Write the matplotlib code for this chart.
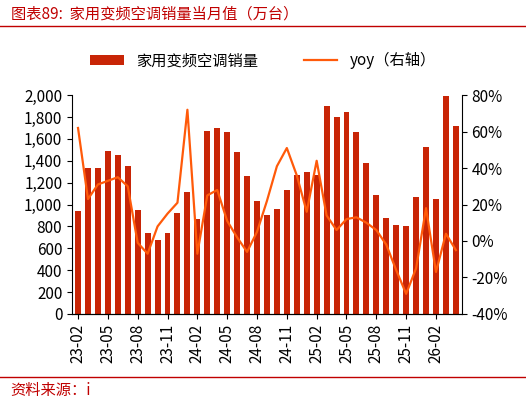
import matplotlib
matplotlib.use("Agg")
import matplotlib.pyplot as plt
import numpy as np

plt.rcParams['font.family'] = ['Noto Sans CJK SC', 'DejaVu Sans']

months = ["23-02", "23-03", "23-04", "23-05", "23-06", "23-07", "23-08", "23-09", "23-10", "23-11", "23-12",
          "24-01", "24-02", "24-03", "24-04", "24-05", "24-06", "24-07", "24-08", "24-09", "24-10", "24-11", "24-12",
          "25-01", "25-02", "25-03", "25-04", "25-05", "25-06", "25-07", "25-08", "25-09", "25-10", "25-11", "25-12",
          "26-01", "26-02", "26-03", "26-04"]
sales = [940, 1330, 1330, 1490, 1450, 1350, 950, 740, 680, 740, 920,
         1110, 870, 1670, 1700, 1660, 1480, 1260, 1030, 900, 960, 1130, 1270,
         1300, 1270, 1900, 1800, 1850, 1660, 1380, 1090, 880, 810, 800, 1070,
         1530, 1050, 1990, 1720]
yoy = [62, 23, 31, 33, 35, 30, -1, -7, 8, 15, 21,
       72, -7, 25, 28, 11, 2, -6, 5, 22, 41, 51, 36,
       16, 44, 14, 6, 12, 13, 10, 6, -2, -16, -29, -15,
       18, -17, 4, -5]

x = np.arange(len(months))
fig, ax = plt.subplots(figsize=(5.26, 4.05), dpi=100)
fig.subplots_adjust(left=0.137, right=0.878, top=0.765, bottom=0.225)

ax.bar(x, sales, width=0.6, color="#C82506", label="家用变频空调销量")
ax.set_ylim(0, 2000)
ax.set_yticks(range(0, 2001, 200))
ax.set_yticklabels([f"{v:,}" for v in range(0, 2001, 200)], fontsize=11)
ax.set_xlim(-0.6, len(months) - 0.4)
ax.set_xticks(x[::3])
ax.set_xticklabels(months[::3], rotation=90, fontsize=11)
for s in ["top", "right"]:
    ax.spines[s].set_visible(False)

ax2 = ax.twinx()
ax2.plot(x, yoy, color="#FF5A0A", lw=1.6, label="yoy（右轴）")
ax2.set_ylim(-40, 80)
ax2.set_yticks(range(-40, 81, 20))
ax2.set_yticklabels([f"{v}%" for v in range(-40, 81, 20)], fontsize=11)
ax2.spines["top"].set_visible(False)
ax2.spines["left"].set_visible(False)

h1, l1 = ax.get_legend_handles_labels()
h2, l2 = ax2.get_legend_handles_labels()
fig.legend(h1 + h2, l1 + l2, loc="upper center", bbox_to_anchor=(0.5, 0.905), ncol=2,
           frameon=False, fontsize=11, handlelength=2.2, columnspacing=3)

fig.text(0.02, 0.965, "图表89:  家用变频空调销量当月值（万台）", color="#C00000", fontsize=11, style="italic", va="center")
fig.add_artist(plt.Line2D([0.0, 1.0], [0.935, 0.935], color="#C00000", lw=1))
fig.add_artist(plt.Line2D([0.0, 1.0], [0.07, 0.07], color="#C00000", lw=1))
fig.text(0.02, 0.035, "资料来源：i", color="#C00000", fontsize=11, style="italic", va="center")

fig.savefig("out.png", dpi=100)
